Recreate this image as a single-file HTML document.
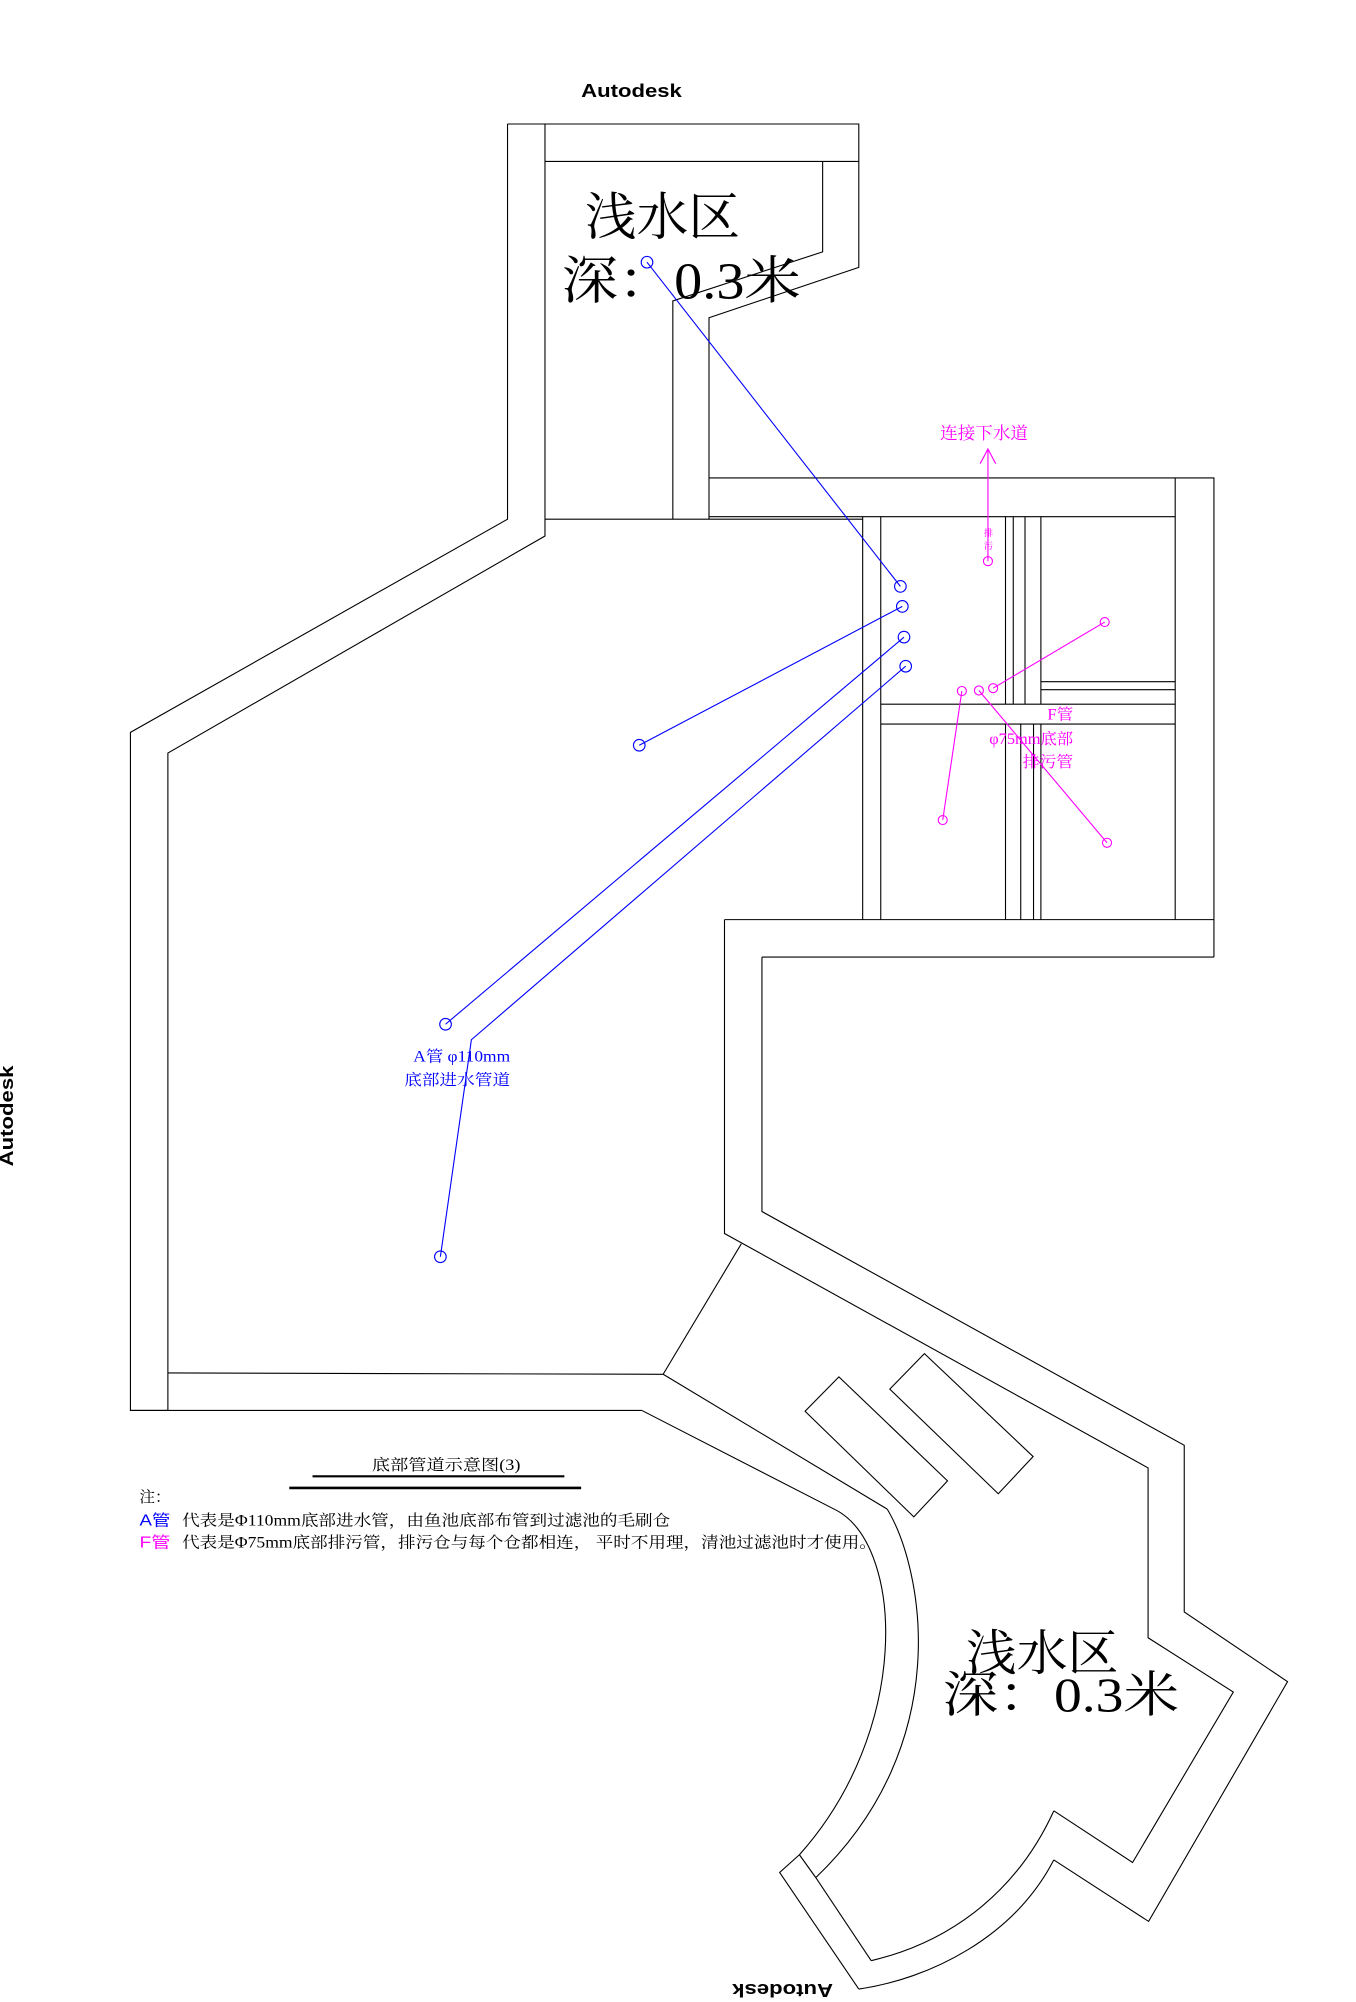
<!DOCTYPE html>
<html><head><meta charset="utf-8">
<style>
html,body{margin:0;padding:0;background:#fff;}
svg{display:block;}
.w{fill:none;stroke:#000;stroke-width:1.1;vector-effect:non-scaling-stroke;}
.b{fill:none;stroke:#0000ff;stroke-width:1.1;vector-effect:non-scaling-stroke;}
.m{fill:none;stroke:#ff00ff;stroke-width:1.1;vector-effect:non-scaling-stroke;}
.cj{font-family:"Liberation Serif","Noto Serif CJK SC",serif;}
.ad{font-family:"Liberation Sans",sans-serif;font-weight:bold;font-size:14px;}
</style></head>
<body>
<svg width="1356" height="2002" viewBox="0 0 1050 1550" preserveAspectRatio="none" xmlns="http://www.w3.org/2000/svg">
<rect width="1050" height="1550" fill="#fff"/>
<text class="ad" x="489" y="75" text-anchor="middle" textLength="78" lengthAdjust="spacingAndGlyphs">Autodesk</text>
<text class="ad" transform="translate(10,864) rotate(-90)" x="0" y="0" text-anchor="middle" textLength="78" lengthAdjust="spacingAndGlyphs">Autodesk</text>
<text class="ad" transform="translate(606,1536) rotate(180)" x="0" y="0" text-anchor="middle" textLength="78" lengthAdjust="spacingAndGlyphs">Autodesk</text>

<polyline class="w" points="393,96 665,96 665,207 549,246 549,402"/>
<polyline class="w" points="422,125 665,125"/>
<polyline class="w" points="637,125 637,195 521,233 521,402"/>
<polyline class="w" points="393,96 393,402 101,567 101,1092 130,1092"/>
<polyline class="w" points="422,96 422,415 130,583 130,1092"/>
<line class="w" x1="422" y1="402" x2="668" y2="402"/>
<line class="w" x1="130" y1="1063" x2="513.5" y2="1064"/>
<line class="w" x1="101" y1="1092" x2="497" y2="1092"/>
<polyline class="w" points="549,370 940,370 940,741"/>
<line class="w" x1="549" y1="400" x2="910" y2="400"/>
<line class="w" x1="910" y1="370" x2="910" y2="712"/>
<line class="w" x1="668" y1="400" x2="668" y2="712"/>
<line class="w" x1="682" y1="400" x2="682" y2="712"/>
<line class="w" x1="778.6" y1="400" x2="778.6" y2="545"/>
<line class="w" x1="784.6" y1="400" x2="784.6" y2="545"/>
<line class="w" x1="793.7" y1="400" x2="793.7" y2="545"/>
<line class="w" x1="806" y1="400" x2="806" y2="545"/>
<line class="w" x1="778.6" y1="560.6" x2="778.6" y2="712"/>
<line class="w" x1="790.4" y1="560.6" x2="790.4" y2="712"/>
<line class="w" x1="800.3" y1="560.6" x2="800.3" y2="712"/>
<line class="w" x1="806" y1="560.6" x2="806" y2="712"/>
<line class="w" x1="806" y1="527.8" x2="910" y2="527.8"/>
<line class="w" x1="806" y1="534" x2="910" y2="534"/>
<line class="w" x1="682" y1="545.2" x2="910" y2="545.2"/>
<line class="w" x1="682" y1="560.6" x2="910" y2="560.6"/>
<line class="w" x1="561" y1="712" x2="940" y2="712"/>
<line class="w" x1="590" y1="741" x2="940" y2="741"/>
<polyline class="w" points="561,712 561,955 889,1136.5 889,1268 955,1310 877,1442 816,1402"/>
<polyline class="w" points="590,741 590,938 917,1119 917,1248 997,1302 889.4,1487.6 816,1440"/>
<line class="w" x1="513.5" y1="1064" x2="574" y2="963"/>
<line class="w" x1="513.5" y1="1064" x2="687" y2="1168.4"/>
<line class="w" x1="497" y1="1092" x2="649" y2="1170"/>
<path class="w" d="M649,1170 C700,1200 705,1340 619,1436"/>
<path class="w" d="M687,1168.4 C715,1215 740,1350 631.7,1453.7"/>
<polyline class="w" points="619,1436 603.7,1449.7 665,1540"/>
<polyline class="w" points="619,1436 631.7,1453.7 674.6,1518"/>
<path class="w" d="M674.6,1518 C730,1505 785,1470 816,1402"/>
<path class="w" d="M665,1540 C720,1532 785,1500 816,1440"/>
<polygon class="w" points="649.6,1066 733.7,1146.5 707.6,1174.4 623.4,1092.6"/>
<polygon class="w" points="715.8,1048 800,1127.7 773,1156.5 689,1075.5"/>

<text class="cj" x="453" y="182" font-size="40" textLength="120" lengthAdjust="spacingAndGlyphs">浅水区</text>
<text class="cj" x="435" y="231" font-size="40" textLength="185" lengthAdjust="spacingAndGlyphs">深：0.3米</text>
<text class="cj" x="748" y="1293" font-size="38" textLength="118" lengthAdjust="spacingAndGlyphs">浅水区</text>
<text class="cj" x="730" y="1325" font-size="38" textLength="183" lengthAdjust="spacingAndGlyphs">深：0.3米</text>

<line class="b" x1="501" y1="203" x2="697.2" y2="454"/>
<line class="b" x1="495" y1="577" x2="698.7" y2="469.5"/>
<line class="b" x1="345" y1="793" x2="700" y2="493.3"/>
<polyline class="b" points="701.3,515.8 365,805 341,973"/>
<circle class="b" cx="501" cy="203" r="4.5"/>
<circle class="b" cx="495" cy="577" r="4.5"/>
<circle class="b" cx="345" cy="793" r="4.5"/>
<circle class="b" cx="341" cy="973" r="4.5"/>
<circle class="b" cx="697.2" cy="454" r="4.5"/>
<circle class="b" cx="698.7" cy="469.5" r="4.5"/>
<circle class="b" cx="700" cy="493.3" r="4.5"/>
<circle class="b" cx="701.3" cy="515.8" r="4.5"/>
<text class="cj" x="320" y="822" font-size="12" fill="#0000ff" textLength="75" lengthAdjust="spacingAndGlyphs">A管  φ110mm</text>
<text class="cj" x="313" y="840" font-size="12" fill="#0000ff" textLength="82" lengthAdjust="spacingAndGlyphs">底部进水管道</text>

<line class="m" x1="765" y1="347.6" x2="765" y2="434.5"/>
<polyline class="m" points="759,359 765,347.6 771,359"/>
<circle class="m" cx="765" cy="434.5" r="3.5"/>
<text class="cj" x="762" y="415" font-size="7" fill="#ff00ff">排</text>
<text class="cj" x="762" y="425" font-size="7" fill="#ff00ff">污</text>
<text class="cj" x="728" y="340" font-size="13" fill="#ff00ff" textLength="68" lengthAdjust="spacingAndGlyphs">连接下水道</text>
<line class="m" x1="769" y1="532.8" x2="855.4" y2="481.6"/>
<line class="m" x1="758" y1="534.6" x2="857.2" y2="652.5"/>
<line class="m" x1="744.8" y1="535" x2="730" y2="634.9"/>
<circle class="m" cx="769" cy="532.8" r="3.5"/>
<circle class="m" cx="758" cy="534.6" r="3.5"/>
<circle class="m" cx="744.8" cy="535" r="3.5"/>
<circle class="m" cx="855.4" cy="481.6" r="3.5"/>
<circle class="m" cx="730" cy="634.9" r="3.5"/>
<circle class="m" cx="857.2" cy="652.5" r="3.5"/>
<text class="cj" x="811" y="557" font-size="12" fill="#ff00ff" textLength="20" lengthAdjust="spacingAndGlyphs">F管</text>
<text class="cj" x="766" y="576" font-size="12" fill="#ff00ff" textLength="65" lengthAdjust="spacingAndGlyphs">φ75mm底部</text>
<text class="cj" x="792" y="594" font-size="12" fill="#ff00ff" textLength="39" lengthAdjust="spacingAndGlyphs">排污管</text>

<text class="cj" x="288" y="1138" font-size="12" textLength="115" lengthAdjust="spacingAndGlyphs">底部管道示意图(3)</text>
<line x1="242" y1="1143" x2="437" y2="1143" stroke="#000" stroke-width="1.6"/>
<line x1="224" y1="1152" x2="450" y2="1152" stroke="#000" stroke-width="2"/>
<text class="cj" x="108" y="1163" font-size="12">注：</text>
<text x="108" y="1181" font-size="12" fill="#0000ff" font-family="Liberation Sans,Noto Sans CJK SC,sans-serif" textLength="24" lengthAdjust="spacingAndGlyphs">A管</text>
<text class="cj" x="141" y="1181" font-size="12" textLength="378" lengthAdjust="spacingAndGlyphs">代表是Φ110mm底部进水管，由鱼池底部布管到过滤池的毛刷仓</text>
<text x="108" y="1198" font-size="12" fill="#ff00ff" font-family="Liberation Sans,Noto Sans CJK SC,sans-serif" textLength="24" lengthAdjust="spacingAndGlyphs">F管</text>
<text class="cj" x="141" y="1198" font-size="12" textLength="538" lengthAdjust="spacingAndGlyphs">代表是Φ75mm底部排污管，排污仓与每个仓都相连，  平时不用理，清池过滤池时才使用。</text>
</svg>
</body></html>
